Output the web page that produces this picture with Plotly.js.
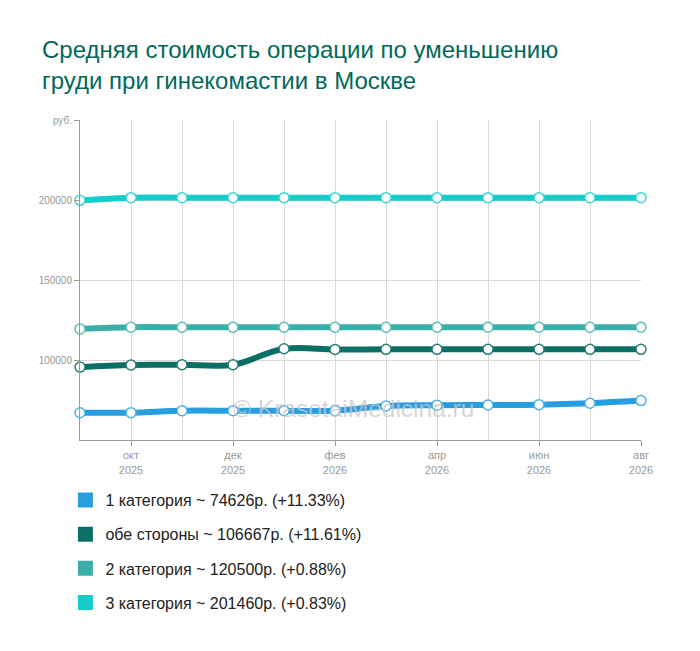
<!DOCTYPE html>
<html>
<head>
<meta charset="utf-8">
<script src="https://cdn.plot.ly/plotly-3.0.1.min.js"></script>
<style>
html,body{margin:0;padding:0;background:#fff;}
#chart{width:700px;height:651px;}
</style>
</head>
<body>
<div id="chart"></div>
<script>
// Months (Sep 2025 .. Aug 2026)
const months = ['сен 2025','окт 2025','ноя 2025','дек 2025','янв 2026','фев 2026','мар 2026','апр 2026','май 2026','июн 2026','июл 2026','авг 2026'];
const tickMonths = ['окт<br>2025','дек<br>2025','фев<br>2026','апр<br>2026','июн<br>2026','авг<br>2026'];
const tickIdx = [1,3,5,7,9,11];

const seriesNames = ['1 категория','обе стороны','2 категория','3 категория'];
const cat1  = [67031, 67100, 68300, 68300, 68300, 68300, 71250, 71700, 71900, 72100, 73000, 74626];
const both  = [95571, 96900, 97000, 97000, 107000, 106600, 106667, 106667, 106667, 106667, 106667, 106667];
const cat2  = [119450, 120500, 120500, 120500, 120500, 120500, 120500, 120500, 120500, 120500, 120500, 120500];
const cat3  = [199800, 201460, 201460, 201460, 201460, 201460, 201460, 201460, 201460, 201460, 201460, 201460];
const seriesValues = [cat1, both, cat2, cat3];
const colors = ['#279ee0','#0b6f66','#3aafa9','#14ccc9'];
const markerLines = ['#4fb0e8','#2a7d75','#5cbdb7','#3ad6d2'];

const yTickVals = [100000,150000,200000,250000];
const yTickText = ['100000','150000','200000','руб.'];

const xs = months.map((_, i) => i);
const traces = [];
seriesValues.forEach((vals, k) => {
  traces.push({
    x: xs, y: vals, type: 'scatter', mode: 'lines+markers',
    line: {color: colors[k], width: 6, shape: 'spline', smoothing: 1},
    marker: {color: '#ffffff', size: 10, line: {color: markerLines[k], width: 1.5}},
    showlegend: false, hoverinfo: 'skip', cliponaxis: false
  });
});
seriesValues.forEach((vals, k) => {
  const last = vals[vals.length - 1];
  const pct = ((last - vals[0]) / vals[0] * 100).toFixed(2);
  traces.push({
    x: [null], y: [null], type: 'scatter', mode: 'markers',
    name: seriesNames[k] + ' ~ ' + last + 'р. (+' + pct + '%)',
    legendgroup: 'g' + k,
    marker: {color: colors[k], size: 15, symbol: 'square'},
    showlegend: true
  });
});

const layout = {
  width: 700, height: 651,
  margin: {l: 80, r: 59, t: 120, b: 211},
  paper_bgcolor: '#fff', plot_bgcolor: '#fff',
  font: {family: 'Liberation Sans, Arial, sans-serif', color: '#999'},
  title: {
    text: 'Средняя стоимость операции по уменьшению<br>груди при гинекомастии в Москве',
    x: 42/700, xanchor: 'left', xref: 'container',
    y: 1 - 58/651, yanchor: 'top', yref: 'container',
    font: {family: 'Liberation Sans, Arial, sans-serif', size: 24, color: '#00695c'}
  },
  xaxis: {
    range: [0, 11], showgrid: false, zeroline: false,
    tickvals: tickIdx, ticktext: tickMonths,
    ticks: 'outside', ticklen: 5, tickcolor: '#999',
    tickfont: {size: 11, color: '#999'},
    showline: true, linecolor: '#999', linewidth: 1,
    minor: {tickmode: 'linear', tick0: 0, dtick: 1, showgrid: true, gridcolor: '#d9d9d9', gridwidth: 1, ticks: ''},
    fixedrange: true
  },
  yaxis: {
    range: [50000, 250000], tickvals: yTickVals, ticktext: yTickText,
    showgrid: true, gridcolor: '#d9d9d9', gridwidth: 1, zeroline: false,
    ticks: 'outside', ticklen: 5, tickcolor: '#999',
    tickfont: {size: 10, color: '#999'},
    showline: true, linecolor: '#999', linewidth: 1,
    fixedrange: true
  },
  legend: {
    x: -0.026, xanchor: 'left', y: -0.135, yanchor: 'top',
    orientation: 'v', traceorder: 'grouped', tracegroupgap: 10.3,
    font: {size: 16, color: '#222', family: 'Liberation Sans, Arial, sans-serif'},
    itemclick: false, itemdoubleclick: false
  },
  annotations: [{
    text: '© KrasotaiMedicina.ru', xref: 'paper', yref: 'paper',
    x: 0.488, y: 0.1, yanchor: 'middle', showarrow: false,
    font: {size: 24.5, color: 'rgba(200,200,200,0.75)', family: 'Liberation Sans, Arial, sans-serif'}
  }]
};

Plotly.newPlot('chart', traces, layout, {displayModeBar: false, staticPlot: true});
</script>
</body>
</html>
